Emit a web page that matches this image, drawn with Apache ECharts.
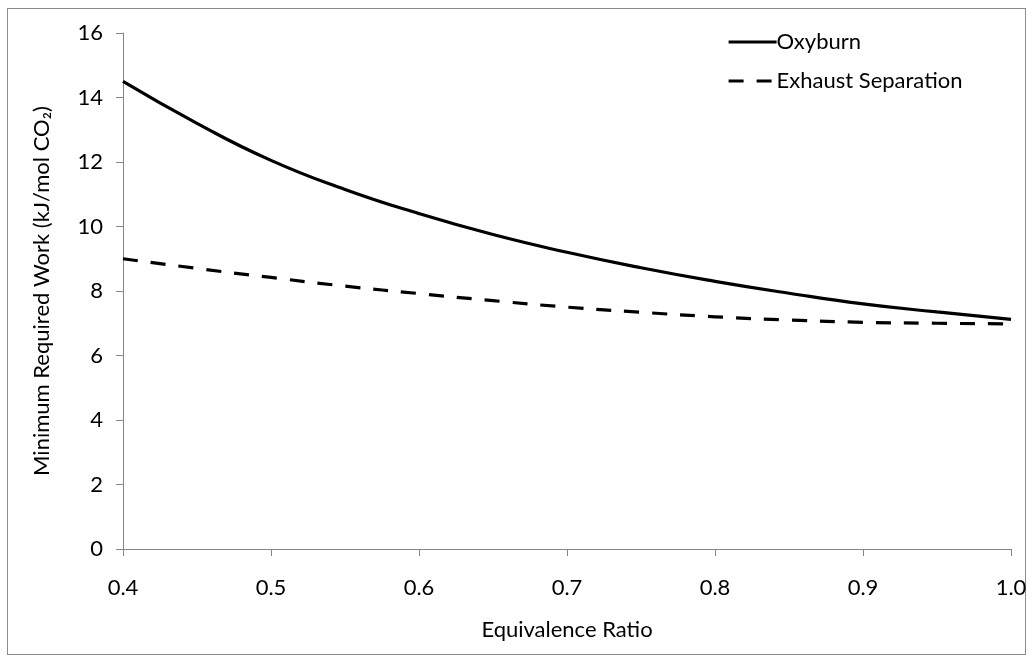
<!DOCTYPE html>
<html>
<head>
    <meta charset="utf-8"/>
    <title>Minimum Required Work</title>
    <script src="https://cdn.jsdelivr.net/npm/echarts@6/dist/echarts.min.js"></script>
    <style>
        html, body { margin: 0; padding: 0; background: #fff; }
        #frame {
            position: absolute; left: 7px; top: 8px;
            width: 1019px; height: 647px;
            border: 1px solid #8c8c8c;
            box-sizing: border-box;
        }
        #chart { position: absolute; left: 0; top: 0; width: 1034px; height: 664px; }
    </style>
</head>
<body>
<div id="frame"></div>
<div id="chart"></div>
<script type="text/javascript">
    // equivalence ratio
    let ratio = [0.4, 0.45, 0.5, 0.55, 0.6, 0.65, 0.7, 0.75, 0.8, 0.85, 0.9, 0.95, 1.0];
    let oxyburn = [14.5, 13.2, 12.05, 11.15, 10.4, 9.75, 9.2, 8.72, 8.3, 7.93, 7.6, 7.35, 7.12];
    let exhaustSep = [9.0, 8.7, 8.42, 8.15, 7.92, 7.7, 7.5, 7.34, 7.2, 7.1, 7.03, 7.0, 6.98];

    let pairs = function (xs, ys) {
        return xs.map(function (x, i) { return [x, ys[i]]; });
    };

    let font = 'Lato, "Open Sans", sans-serif';
    let axisGray = '#868686';
    let fs = 22;

    let chart = echarts.init(document.getElementById('chart'));
    chart.setOption({
        animation: false,
        textStyle: {fontFamily: font},
        grid: {left: 123, right: 23, top: 33, bottom: 115},
        legend: {
            orient: 'vertical',
            left: 722,
            top: 26,
            itemWidth: 48,
            itemHeight: 1,
            itemGap: 17,
            itemStyle: {color: 'rgba(0,0,0,0)', borderColor: 'rgba(0,0,0,0)', borderWidth: 0},
            lineStyle: {width: 3.2},
            textStyle: {fontFamily: font, fontSize: fs, color: '#000', padding: [0, 0, 0, -5]},
            data: ['Oxyburn', 'Exhaust Separation']
        },
        xAxis: {
            type: 'value',
            min: 0.4,
            max: 1.0,
            interval: 0.1,
            name: 'Equivalence Ratio',
            nameLocation: 'middle',
            nameGap: 70,
            nameTextStyle: {fontFamily: font, fontSize: fs, color: '#000'},
            axisLine: {lineStyle: {color: axisGray, width: 1}},
            axisTick: {show: true, inside: false, length: 7, lineStyle: {color: axisGray}},
            axisLabel: {
                fontFamily: font, fontSize: fs, color: '#000', margin: 28,
                formatter: function (v) { return v.toFixed(1); }
            },
            splitLine: {show: false}
        },
        yAxis: {
            type: 'value',
            min: 0,
            max: 16,
            interval: 2,
            name: 'Minimum Required Work (kJ/mol CO\u2082)',
            nameLocation: 'middle',
            nameGap: 70,
            nameTextStyle: {fontFamily: font, fontSize: fs, color: '#000'},
            axisLine: {show: true, lineStyle: {color: axisGray, width: 1}},
            axisTick: {show: true, inside: false, length: 7, lineStyle: {color: axisGray}},
            axisLabel: {fontFamily: font, fontSize: fs, color: '#000', margin: 20},
            splitLine: {show: false}
        },
        series: [
            {
                name: 'Oxyburn',
                type: 'line',
                smooth: true,
                showSymbol: false,
                symbol: 'none',
                lineStyle: {color: '#000', width: 3.2},
                itemStyle: {color: '#000'},
                data: pairs(ratio, oxyburn)
            },
            {
                name: 'Exhaust Separation',
                type: 'line',
                smooth: true,
                showSymbol: false,
                symbol: 'none',
                lineStyle: {color: '#000', width: 3.2, type: [15, 13]},
                itemStyle: {color: '#000'},
                data: pairs(ratio, exhaustSep)
            }
        ]
    });
</script>
</body>
</html>
